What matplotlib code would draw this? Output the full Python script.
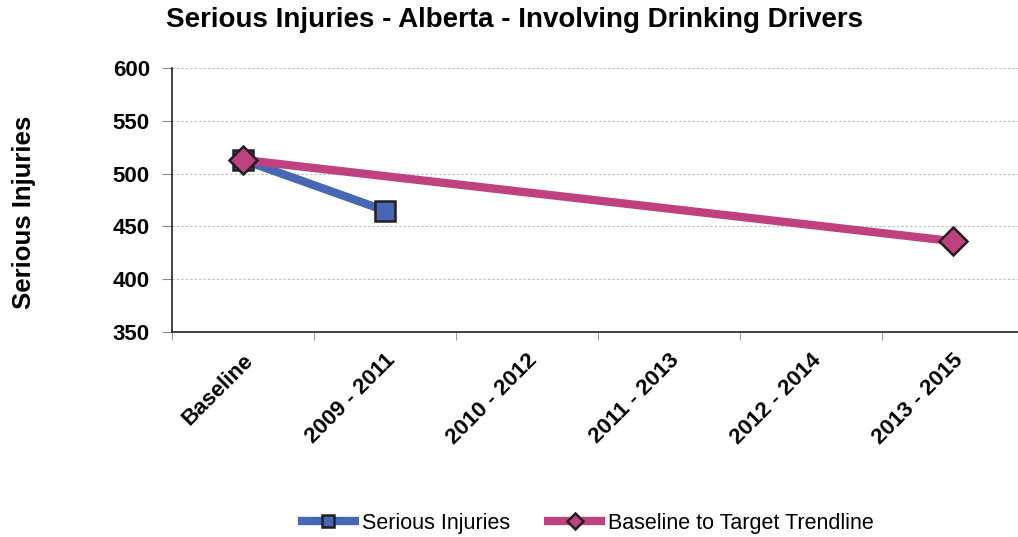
import numpy as np
import matplotlib
matplotlib.use("Agg")
from matplotlib import pyplot as plt

plt.rcParams['font.family'] = ['Liberation Sans', 'DejaVu Sans']

# data
categories = ['Baseline', '2009 - 2011', '2010 - 2012', '2011 - 2013', '2012 - 2014', '2013 - 2015']
serious_injuries = [513, 465]
trend_idx = [0, 5]
trend_vals = [513, 436]

fig = plt.figure(figsize=(10.18, 5.37), dpi=100)
ax = fig.add_axes([172/1018, 1-332/537, 852/1018, 264/537])

x = np.arange(len(categories))

ax.plot(x[:len(serious_injuries)], serious_injuries, color='#4766b3', lw=6,
        marker='s', ms=14, mfc='#4766b3', mec='#231f20', mew=1.8,
        label='Serious Injuries', solid_capstyle='butt', zorder=3)
ax.plot(x[trend_idx], trend_vals, color='#c0417f', lw=6,
        marker='D', ms=14, mfc='#c0417f', mec='#231f20', mew=1.8,
        label='Baseline to Target Trendline', solid_capstyle='butt', zorder=4)

ax.set_xlim(-0.5, 5.5)
ax.set_ylim(350, 600)
ax.set_yticks(np.arange(350, 601, 50))
ax.yaxis.grid(True, ls=(0, (2, 2)), color='#bbbbbb', lw=0.8)
ax.set_axisbelow(True)

ax.set_xticks(x)
ax.set_xticklabels(categories, rotation=45, ha='right', rotation_mode='anchor',
                   fontsize=16, fontweight='bold')
ax.set_xticks(np.arange(-0.5, 5.6, 1), minor=True)
ax.tick_params(axis='x', which='major', length=0, pad=13)
ax.tick_params(axis='x', which='minor', length=6, color='#888888')
ax.tick_params(axis='y', length=7, color='#888888', labelsize=16, pad=9)
for lab in ax.get_yticklabels():
    lab.set_fontweight('bold')

for s in ['top', 'right']:
    ax.spines[s].set_visible(False)
for s in ['left', 'bottom']:
    ax.spines[s].set_color('#231f20')
    ax.spines[s].set_linewidth(1.2)

fig.text(24/1018, 1-212/537, 'Serious Injuries', rotation=90, ha='center', va='center',
         fontsize=18.5, fontweight='bold')
fig.text(515/1018, 1-20/537, 'Serious Injuries - Alberta - Involving Drinking Drivers',
         ha='center', va='center', fontsize=20, fontweight='bold')

fig.legend(loc='center', bbox_to_anchor=(586/1018, 1-523/537), ncol=2, frameon=False,
           fontsize=15.5, handlelength=2.8, handletextpad=0.15, columnspacing=1.6,
           markerscale=0.6)

fig.savefig('out.png', dpi=100)
